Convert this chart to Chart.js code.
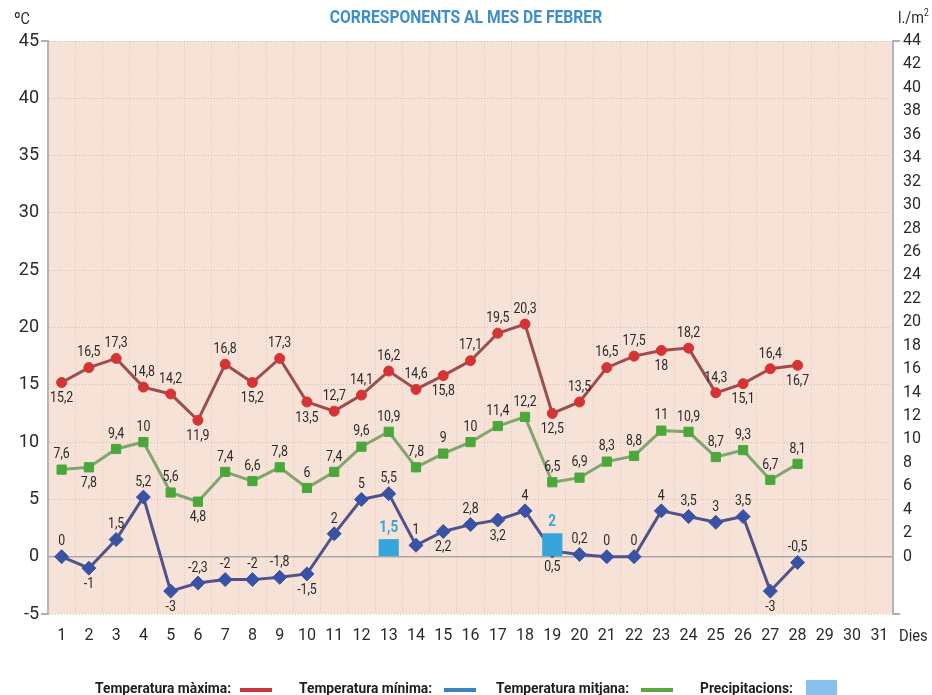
<!DOCTYPE html>
<html>
<head>
<meta charset="utf-8">
<script src="https://cdn.jsdelivr.net/npm/chart.js@4.4.1/dist/chart.umd.min.js"></script>
<style>
  html, body { margin: 0; padding: 0; background: #fff; }
  #wrap { position: relative; width: 932px; height: 695px; overflow: hidden; }
  canvas { position: absolute; left: 0; top: 0; }
  .cond { font-family: Roboto, 'Noto Sans', sans-serif; }
  .t { position: absolute; white-space: nowrap; color: #2a2a2a; }
  #title { left: 466px; top: 6px; font-weight: bold; font-size: 18px; color: #3d8ec9; transform: translateX(-50%) scaleX(0.87); }
  #degc { left: 14px; top: 8px; font-size: 17px; transform: scaleX(0.85); transform-origin: left; }
  #lm2 { left: 898px; top: 7px; font-size: 17px; transform: scaleX(0.85); transform-origin: left; }
  #dies { left: 899px; top: 626px; font-size: 16px; transform: scaleX(0.92); transform-origin: left; }
  .lg { position: absolute; top: 679px; font-weight: bold; font-size: 15px; color: #1e1e1e; white-space: nowrap; transform: scaleX(0.92); transform-origin: left; }
  .ln { position: absolute; height: 4px; width: 32px; top: 688px; }
  .bx { position: absolute; width: 31px; height: 16px; top: 680px; background: #88c0ec; }
</style>
</head>
<body>
<div id="wrap">
  <canvas id="c" width="932" height="695"></canvas>
  <div id="title" class="t cond">CORRESPONENTS AL MES DE FEBRER</div>
  <div id="degc" class="t cond">ºC</div>
  <div id="lm2" class="t cond">l./m<sup style="font-size:10px">2</sup></div>
  <div id="dies" class="t cond">Dies</div>
  <div class="lg cond" style="left:95px">Temperatura màxima:</div>
  <div class="ln" style="left:240px;background:#c8383a"></div>
  <div class="lg cond" style="left:299px">Temperatura mínima:</div>
  <div class="ln" style="left:444px;background:#3a85bf"></div>
  <div class="lg cond" style="left:496px">Temperatura mitjana:</div>
  <div class="ln" style="left:641px;background:#5aaa3a"></div>
  <div class="lg cond" style="left:700px">Precipitacions:</div>
  <div class="bx" style="left:806px"></div>
</div>
<script>
const days = Array.from({length: 31}, (_, i) => String(i + 1));
const tempMax = [15.2, 16.5, 17.3, 14.8, 14.2, 11.9, 16.8, 15.2, 17.3, 13.5, 12.7, 14.1, 16.2, 14.6, 15.8, 17.1, 19.5, 20.3, 12.5, 13.5, 16.5, 17.5, 18, 18.2, 14.3, 15.1, 16.4, 16.7];
const tempMin = [0, -1, 1.5, 5.2, -3, -2.3, -2, -2, -1.8, -1.5, 2, 5, 5.5, 1, 2.2, 2.8, 3.2, 4, 0.5, 0.2, 0, 0, 4, 3.5, 3, 3.5, -3, -0.5];
const tempMid = [7.6, 7.8, 9.4, 10, 5.6, 4.8, 7.4, 6.6, 7.8, 6, 7.4, 9.6, 10.9, 7.8, 9, 10, 11.4, 12.2, 6.5, 6.9, 8.3, 8.8, 11, 10.9, 8.7, 9.3, 6.7, 8.1];
const precip = [null, null, null, null, null, null, null, null, null, null, null, null, 1.5, null, null, null, null, null, 2, null, null, null, null, null, null, null, null, null];
const leftTicks = [-5, 0, 5, 10, 15, 20, 25, 30, 35, 40, 45];
const rightTicks = [0, 2, 4, 6, 8, 10, 12, 14, 16, 18, 20, 22, 24, 26, 28, 30, 32, 34, 36, 38, 40, 42, 44];

// label placement: a = above, b = below
const posMaxArr = ['b','a','a','a','a','b','a','b','a','b','a','a','a','a','b','a','a','a','b','a','a','a','b','a','a','b','a','b'];
const posMidArr = ['a','b','a','a','a','b','a','a','a','a','a','a','a','a','a','a','a','a','a','a','a','a','a','a','a','a','a','a'];
const posMinArr = ['a','b','a','a','b','a','a','a','a','b','a','a','a','a','b','a','b','a','b','a','a','a','a','a','a','a','b','a'];

const FONT = "Roboto, 'Noto Sans', sans-serif";
const fmt = v => String(v).replace('.', ',');

function condText(ctx, txt, x, y, sx) {
  ctx.save();
  ctx.translate(x, y);
  ctx.scale(sx, 1);
  ctx.fillText(txt, 0, 0);
  ctx.restore();
}

const bgPlugin = {
  id: 'bg',
  beforeDraw(chart) {
    const {ctx, chartArea: a} = chart;
    ctx.save();
    ctx.fillStyle = '#f6e2d7';
    ctx.fillRect(a.left, a.top, a.right - a.left, a.bottom - a.top);
    ctx.restore();
  },
  beforeDatasetsDraw(chart) {
    const {ctx, chartArea: a, scales} = chart;
    const y0 = scales.y.getPixelForValue(0);
    ctx.save();
    ctx.strokeStyle = '#a9a9a9';
    ctx.lineWidth = 1.5;
    ctx.beginPath();
    ctx.moveTo(a.left, y0); ctx.lineTo(a.right, y0);
    ctx.stroke();
    ctx.strokeStyle = '#b0b0b0';
    ctx.lineWidth = 2;
    ctx.beginPath();
    ctx.moveTo(a.left - 7, a.top); ctx.lineTo(a.left, a.top);
    ctx.moveTo(a.left - 7, a.bottom); ctx.lineTo(a.left, a.bottom);
    ctx.moveTo(a.right, a.top); ctx.lineTo(a.right + 7, a.top);
    ctx.moveTo(a.right, a.bottom); ctx.lineTo(a.right + 7, a.bottom);
    ctx.stroke();
    ctx.restore();
  },
  afterDatasetsDraw(chart) {
    const {ctx} = chart;
    ctx.save();
    ctx.textAlign = 'center';
    ctx.textBaseline = 'middle';
    const sets = [[0, posMaxArr], [1, posMidArr], [2, posMinArr]];
    ctx.font = '15px ' + FONT;
    ctx.fillStyle = '#2a2a2a';
    sets.forEach(([di, pos]) => {
      const meta = chart.getDatasetMeta(di);
      const data = chart.data.datasets[di].data;
      meta.data.forEach((el, i) => {
        if (data[i] === null || data[i] === undefined) return;
        const dy = pos[i] === 'a' ? -15 : 16;
        condText(ctx, fmt(data[i]), el.x, el.y + dy, 0.82);
      });
    });
    const bm = chart.getDatasetMeta(3);
    ctx.font = 'bold 16px ' + FONT;
    ctx.fillStyle = '#3aa6dc';
    bm.data.forEach((el, i) => {
      const v = chart.data.datasets[3].data[i];
      if (v === null || v === undefined) return;
      condText(ctx, fmt(v), el.x, el.y - 11, 0.85);
    });
    ctx.restore();
  }
};

new Chart(document.getElementById('c'), {
  type: 'line',
  data: {
    labels: days,
    datasets: [
      {
        label: 'Temperatura màxima', data: tempMax, yAxisID: 'y',
        borderColor: '#9c4e4c', borderWidth: 3, tension: 0,
        pointStyle: 'circle', pointRadius: 5, pointBackgroundColor: '#d63434', pointBorderColor: '#d63434', pointBorderWidth: 1,
        order: 3
      },
      {
        label: 'Temperatura mitjana', data: tempMid, yAxisID: 'y',
        borderColor: '#82a570', borderWidth: 3, tension: 0,
        pointStyle: 'rect', pointRadius: 6.5, pointBackgroundColor: '#4aa83a', pointBorderColor: '#4aa83a', pointBorderWidth: 1,
        order: 2
      },
      {
        label: 'Temperatura mínima', data: tempMin, yAxisID: 'y',
        borderColor: '#52528a', borderWidth: 3, tension: 0,
        pointStyle: 'rectRot', pointRadius: 7, pointBackgroundColor: '#3a52a6', pointBorderColor: '#3a52a6', pointBorderWidth: 1,
        order: 1
      },
      {
        type: 'bar', label: 'Precipitacions', data: precip, yAxisID: 'y2',
        backgroundColor: '#38a4dc', borderWidth: 0,
        barPercentage: 0.74, categoryPercentage: 1,
        order: 0
      }
    ]
  },
  options: {
    responsive: false,
    animation: false,
    events: [],
    layout: { padding: { top: 41, bottom: 41, left: 0, right: 0 } },
    plugins: { legend: { display: false }, tooltip: { enabled: false }, title: { display: false } },
    scales: {
      x: {
        offset: true,
        grid: { offset: true, color: 'rgba(200,172,160,0.5)', lineWidth: 1, drawTicks: false },
        border: { display: false, dash: [1, 2] },
        ticks: { color: '#2a2a2a', font: { family: FONT, size: 16 }, padding: 12, autoSkip: false, maxRotation: 0 },
        afterFit(s) { s.height = 40; }
      },
      y: {
        position: 'left', min: -5, max: 45,
        afterBuildTicks(s) {
          const t = [];
          for (let v = -5; v <= 45; v++) t.push({ value: v });
          s.ticks = t;
        },
        ticks: {
          color: '#2a2a2a', font: { family: FONT, size: 18 }, padding: 9, autoSkip: false,
          callback: v => leftTicks.includes(v) ? String(v) : null
        },
        grid: { color: 'rgba(190,160,150,0.55)', lineWidth: 1, drawTicks: false },
        border: { color: '#b5b5b5', width: 2, dash: [1, 2] },
        afterFit(s) { s.width = 48; }
      },
      y2: {
        position: 'right', min: -44 / 9, max: 44,
        afterBuildTicks(s) { s.ticks = rightTicks.map(v => ({ value: v })); },
        ticks: { color: '#2a2a2a', font: { family: FONT, size: 16 }, padding: 10, autoSkip: false,
          callback: v => String(v) },
        grid: { drawOnChartArea: false, drawTicks: false },
        border: { color: '#b5b5b5', width: 2 },
        afterFit(s) { s.width = 39; }
      }
    }
  },
  plugins: [bgPlugin]
});
</script>
</body>
</html>
